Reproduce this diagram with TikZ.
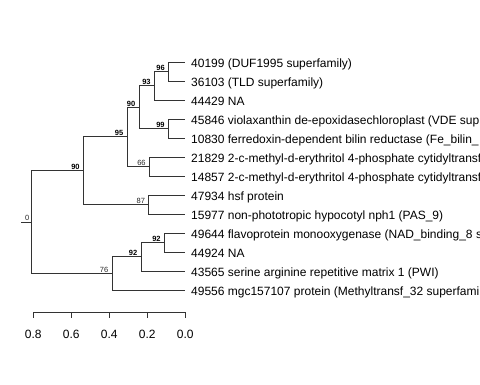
\documentclass[tikz,border=0pt]{standalone}
\usepackage{fontspec}
\setmainfont{Liberation Sans}
\begin{document}
\begin{tikzpicture}[x=1bp,y=-1bp,
  edge/.style={draw=black!80,line width=0.9bp},
  leaf/.style={anchor=base west,inner sep=0pt,font=\fontsize{12bp}{14bp}\selectfont},
  boot/.style={anchor=base east,inner sep=0pt,font=\fontsize{7.5bp}{9bp}\selectfont\bfseries},
  bootn/.style={anchor=base east,inner sep=0pt,font=\fontsize{7.5bp}{9bp}\selectfont,text=black!85},
  axlab/.style={anchor=base,inner sep=0pt,font=\fontsize{12bp}{14bp}\selectfont}]
\useasboundingbox (0,0) rectangle (480,384);
\clip (0,0) rectangle (480,384);
% leaves
\foreach \i/\yy in {1/62,2/81,3/100,4/119,5/138,6/157,7/176,8/195,9/214,10/233,11/252,12/271,13/290}
  {\coordinate (l\i) at (185,\yy);}
% internal nodes
\coordinate (n96) at (168.5,71.5);
\coordinate (n93) at (154.3,85.75);
\coordinate (n99) at (168.3,128.5);
\coordinate (n90a) at (139,107.1);
\coordinate (n66) at (149.3,166.5);
\coordinate (n95) at (127,136.8);
\coordinate (n87) at (148.7,204.5);
\coordinate (n90b) at (83.3,170.7);
\coordinate (n92a) at (164.3,242.5);
\coordinate (n92b) at (141,256.75);
\coordinate (n76) at (112,273.4);
\coordinate (root) at (31,222);
\coordinate (stub) at (21,222);
% edges
\draw[edge] (stub) -- (root);
\draw[edge] (root) |- (n90b);
\draw[edge] (root) |- (n76);
\draw[edge] (n90b) |- (n95);
\draw[edge] (n90b) |- (n87);
\draw[edge] (n95) |- (n90a);
\draw[edge] (n95) |- (n66);
\draw[edge] (n90a) |- (n93);
\draw[edge] (n90a) |- (n99);
\draw[edge] (n93) |- (n96);
\draw[edge] (n93) |- (l3);
\draw[edge] (n96) |- (l1);
\draw[edge] (n96) |- (l2);
\draw[edge] (n99) |- (l4);
\draw[edge] (n99) |- (l5);
\draw[edge] (n66) |- (l6);
\draw[edge] (n66) |- (l7);
\draw[edge] (n87) |- (l8);
\draw[edge] (n87) |- (l9);
\draw[edge] (n76) |- (n92b);
\draw[edge] (n76) |- (l13);
\draw[edge] (n92b) |- (n92a);
\draw[edge] (n92b) |- (l12);
\draw[edge] (n92a) |- (l10);
\draw[edge] (n92a) |- (l11);
% leaf labels
\node[leaf] (t1) at (191,67.5) {40199 (DUF1995 superfamily)};
\node[leaf] (t2) at (191,86.5) {36103 (TLD superfamily)};
\node[leaf] (t3) at (191,105.5) {44429 NA};
\node[leaf] (t4) at (191,124.5) {45846 violaxanthin de-epoxidasechloroplast (VDE sup};
\node[leaf] (t5) at (191,143.5) {10830 ferredoxin-dependent bilin reductase (Fe\_bilin\_};
\node[leaf] (t6) at (191,162.5) {21829 2-c-methyl-d-erythritol 4-phosphate cytidyltransf};
\node[leaf] (t7) at (191,181.5) {14857 2-c-methyl-d-erythritol 4-phosphate cytidyltransf};
\node[leaf] (t8) at (191,200.5) {47934 hsf protein};
\node[leaf] (t9) at (191,219.5) {15977 non-phototropic hypocotyl nph1 (PAS\_9)};
\node[leaf] (t10) at (191,238.5) {49644 flavoprotein monooxygenase (NAD\_binding\_8 s};
\node[leaf] (t11) at (191,257.5) {44924 NA};
\node[leaf] (t12) at (191,276.5) {43565 serine arginine repetitive matrix 1 (PWI)};
\node[leaf] (t13) at (191,295.5) {49556 mgc157107 protein (Methyltransf\_32 superfami};
% bootstrap labels
\node[boot] (b96) at ([xshift=-3.5bp,yshift=1bp]n96) {96};
\node[boot] (b93) at ([xshift=-3.5bp,yshift=1bp]n93) {93};
\node[boot] (b99) at ([xshift=-3.5bp,yshift=1bp]n99) {99};
\node[boot] (b90a) at ([xshift=-3.5bp,yshift=1bp]n90a) {90};
\node[bootn] (b66) at ([xshift=-3.5bp,yshift=1bp]n66) {66};
\node[boot] (b95) at ([xshift=-3.5bp,yshift=1bp]n95) {95};
\node[bootn] (b87) at ([xshift=-3.5bp,yshift=1bp]n87) {87};
\node[boot] (b90b) at ([xshift=-3.5bp,yshift=1bp]n90b) {90};
\node[boot] (b92a) at ([xshift=-3.5bp,yshift=1bp]n92a) {92};
\node[boot] (b92b) at ([xshift=-3.5bp,yshift=1bp]n92b) {92};
\node[bootn] (b76) at ([xshift=-3.5bp,yshift=1bp]n76) {76};
\node[bootn] (b0) at ([xshift=-1.5bp,yshift=2bp]root) {0};
% axis
\coordinate (a0) at (185.3,312);
\coordinate (a8) at (33.3,312);
\draw[edge] (a8) -- (a0);
\foreach \xx/\lab in {33.3/0.8,71.3/0.6,109.3/0.4,147.3/0.2,185.3/0.0}{
  \draw[edge] (\xx,312) -- (\xx,318);
  \node[axlab] at (\xx,338.6) {\lab};
}
\end{tikzpicture}
\end{document}
